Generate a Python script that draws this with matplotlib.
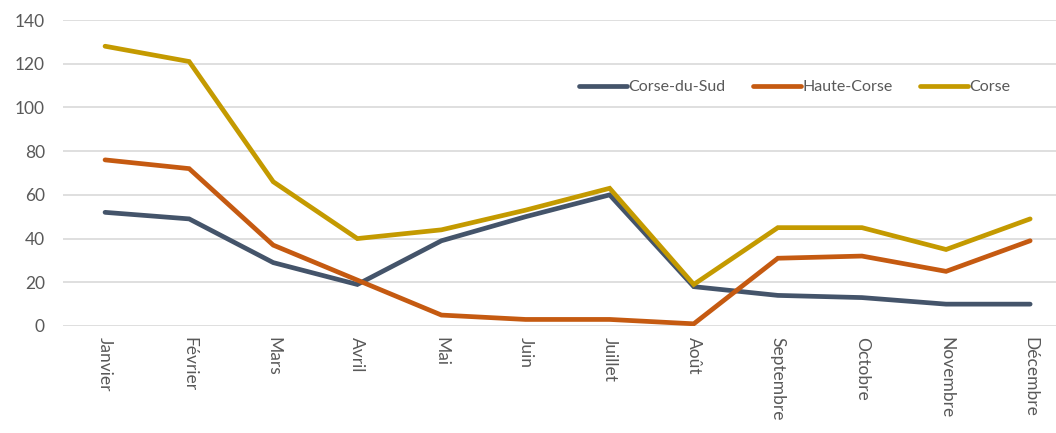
import matplotlib
matplotlib.use("Agg")
import matplotlib.pyplot as plt

months = ["Janvier", "Février", "Mars", "Avril", "Mai", "Juin", "Juillet",
          "Août", "Septembre", "Octobre", "Novembre", "Décembre"]
corse_du_sud = [52, 49, 29, 19, 39, 50, 60, 18, 14, 13, 10, 10]
haute_corse = [76, 72, 37, 21, 5, 3, 3, 1, 31, 32, 25, 39]
corse = [128, 121, 66, 40, 44, 53, 63, 19, 45, 45, 35, 49]
yticks = [0, 20, 40, 60, 80, 100, 120, 140]

plt.rcParams['font.family'] = ['Lato', 'DejaVu Sans']

fig = plt.figure(figsize=(10.56, 4.33), dpi=100)
ax = fig.add_axes([63/1056, (433-326)/433, 1 - 63/1056, 306/433])

x = list(range(len(months)))
lw = 3.4
ax.plot(x, corse_du_sud, color="#44546A", lw=lw, label="Corse-du-Sud", solid_capstyle="round", solid_joinstyle="miter")
ax.plot(x, haute_corse, color="#C55A11", lw=lw, label="Haute-Corse", solid_capstyle="round", solid_joinstyle="miter")
ax.plot(x, corse, color="#C49A00", lw=lw, label="Corse", solid_capstyle="round", solid_joinstyle="miter")

ax.set_xlim(-0.5, -0.5 + (1056-63)/84.1)
ax.set_ylim(0, 140)
ax.set_yticks(yticks)
ax.set_xticks(x)
ax.set_xticklabels(months, rotation=270, va="top", ha="center")
ax.yaxis.grid(True, color="#D9D9D9", lw=1.2)
ax.set_axisbelow(True)
for s in ax.spines.values():
    s.set_visible(False)
ax.tick_params(axis="both", length=0, colors="#595959", labelsize=12.5)
ax.tick_params(axis="y", pad=13)
ax.tick_params(axis="x", pad=8)

leg = ax.legend(loc="center", bbox_to_anchor=(0.737, 0.781), ncol=3, frameon=False,
                fontsize=11.5, handlelength=3.0, handletextpad=0.1, columnspacing=1.7,
                labelcolor="#595959")

fig.savefig("out.png", dpi=100)
